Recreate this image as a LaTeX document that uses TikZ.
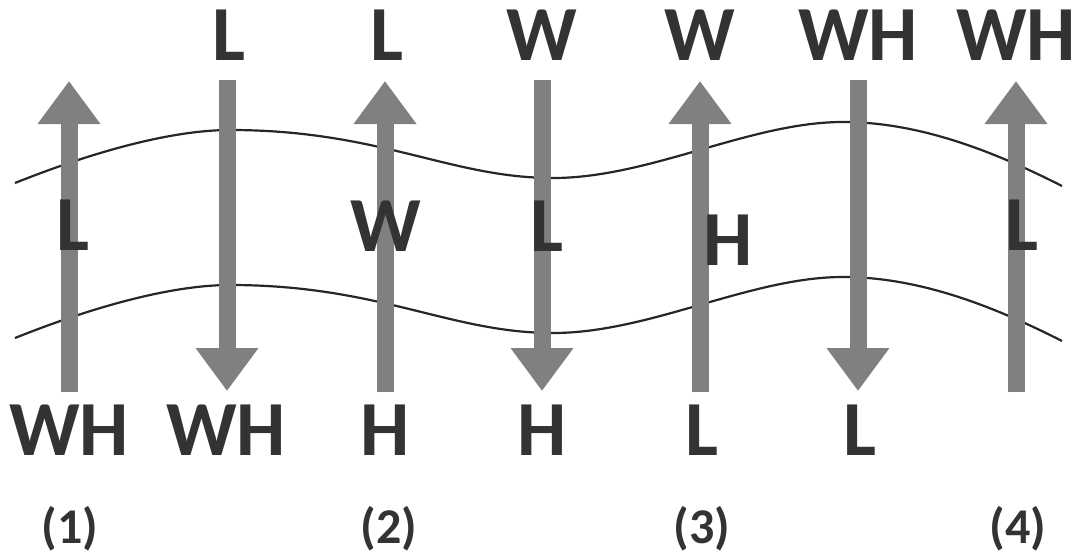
\documentclass[tikz,border=0pt]{standalone}
\usepackage{fontspec}
\setmainfont{Carlito}
\usetikzlibrary{arrows.meta}
\definecolor{txt}{HTML}{333333}
\definecolor{arrgray}{HTML}{808080}
\definecolor{wavec}{HTML}{262626}
\tikzset{
  flow/.style={draw=arrgray, line width=17pt, -{Triangle[width=60pt,length=43pt]}},
  wave/.style={draw=wavec, line width=2.2pt},
  lab/.style={text=txt, font=\fontsize{78}{80}\selectfont\bfseries, inner sep=0pt, anchor=base},
  num/.style={text=txt, font=\fontsize{50}{52}\selectfont\bfseries, inner sep=0pt, anchor=base}
}
\begin{document}
\begin{tikzpicture}[x=1pt,y=-1pt]
\useasboundingbox (0,0) rectangle (1080,557);
% waves
\foreach \dy in {0,155}{
  \draw[wave, yshift=-\dy pt] (15,183) .. controls (90,153) and (170,130) .. (230,130)
     .. controls (380,130) and (450,178) .. (553,178)
     .. controls (650,178) and (750,122) .. (843,122)
     .. controls (920,122) and (995,152) .. (1062,186);
}
% arrow endpoints
\coordinate (a1s) at (69,392);   \coordinate (a1e) at (69,81);
\coordinate (a2s) at (227,80);   \coordinate (a2e) at (227,391);
\coordinate (a3s) at (385,392);  \coordinate (a3e) at (385,81);
\coordinate (a4s) at (542,80);   \coordinate (a4e) at (542,391);
\coordinate (a5s) at (700,392);  \coordinate (a5e) at (700,81);
\coordinate (a6s) at (858,80);   \coordinate (a6e) at (858,391);
\coordinate (a7s) at (1016,392); \coordinate (a7e) at (1016,81);
\foreach \i in {1,...,7}{ \draw[flow] (a\i s) -- (a\i e); }
% top labels
\node[lab] (t2) at (229,60) {L};
\node[lab] (t3) at (387,60) {L};
\node[lab] (t4) at (542,60) {W};
\node[lab] (t5) at (700,60) {W};
\node[lab] (t6) at (858,60) {WH};
\node[lab] (t7) at (1016,60) {WH};
% middle labels
\node[lab] (m1) at (73,250) {L};
\node[lab] (m3) at (386,251) {W};
\node[lab] (m4) at (547,251) {L};
\node[lab] (m5) at (728,265) {H};
\node[lab] (m7) at (1022,250) {L};
% bottom labels
\node[lab] (b1) at (69,455) {WH};
\node[lab] (b2) at (226,455) {WH};
\node[lab] (b3) at (385,455) {H};
\node[lab] (b4) at (542,455) {H};
\node[lab] (b5) at (702,455) {L};
\node[lab] (b6) at (860,455) {L};
% case numbers
\node[num] (n1) at (70,543) {(1)};
\node[num] (n2) at (389,543) {(2)};
\node[num] (n3) at (702,543) {(3)};
\node[num] (n4) at (1018,543) {(4)};
\end{tikzpicture}
\end{document}
